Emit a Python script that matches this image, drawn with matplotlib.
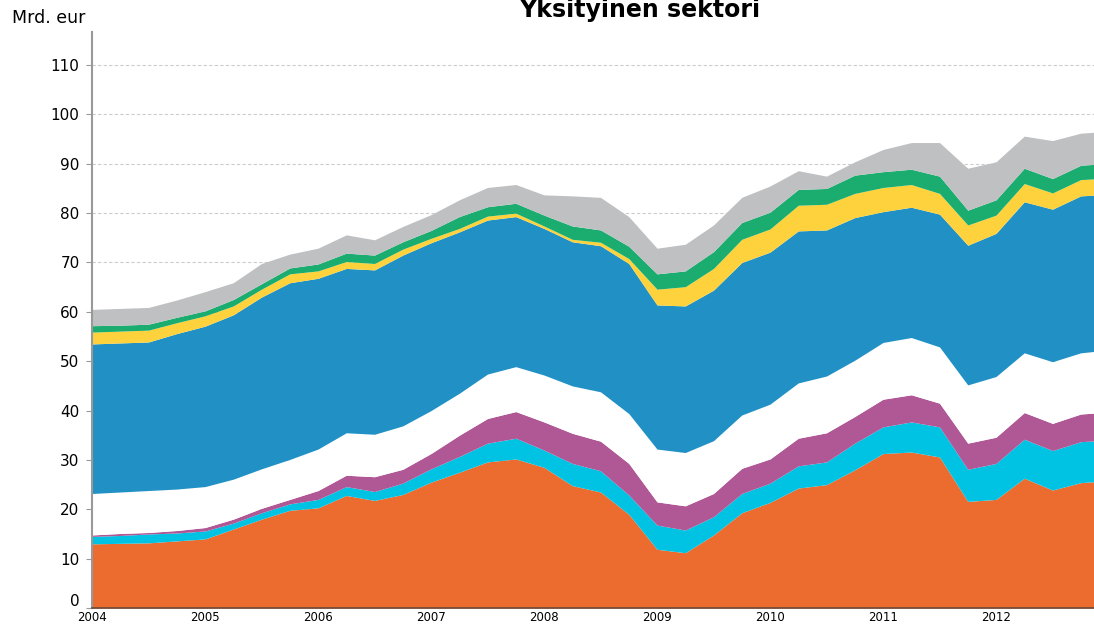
import numpy as np
import matplotlib
matplotlib.use("Agg")
import matplotlib.pyplot as plt
import matplotlib.transforms as mtransforms

# quarterly observations, 2004Q1 .. 2013Q1 (the last one is cut by the right edge)
quarters = np.arange(2004.0, 2013.01, 0.25)

# cumulative top of each stacked layer, bn EUR
orange_top = [13.0, 13.1, 13.2, 13.6, 14.0, 16.0, 18.0, 19.8, 20.3, 22.8, 21.8, 23.0, 25.5,
              27.5, 29.6, 30.2, 28.5, 24.8, 23.5, 19.0, 11.9, 11.2, 14.8, 19.3, 21.4, 24.3,
              25.0, 28.0, 31.3, 31.6, 30.6, 21.6, 22.0, 26.3, 23.9, 25.4, 25.8]
cyan_top = [14.5, 14.7, 15.0, 15.2, 15.6, 17.2, 19.3, 21.1, 22.0, 24.6, 23.6, 25.3, 28.2,
            30.7, 33.4, 34.4, 32.0, 29.3, 27.8, 22.9, 16.8, 15.8, 18.5, 23.2, 25.3, 28.8,
            29.6, 33.4, 36.7, 37.7, 36.7, 28.1, 29.3, 34.2, 31.9, 33.7, 34.0]
purple_top = [14.8, 15.1, 15.3, 15.7, 16.3, 18.0, 20.2, 22.0, 23.8, 26.9, 26.6, 28.1, 31.3,
              35.0, 38.4, 39.8, 37.7, 35.4, 33.8, 29.3, 21.5, 20.7, 23.2, 28.3, 30.2, 34.4,
              35.5, 38.8, 42.3, 43.2, 41.5, 33.4, 34.6, 39.6, 37.4, 39.3, 39.7]
white_top = [23.2, 23.5, 23.8, 24.1, 24.6, 26.1, 28.2, 30.1, 32.2, 35.5, 35.2, 36.9, 40.0,
             43.5, 47.4, 48.9, 47.2, 45.0, 43.8, 39.4, 32.2, 31.5, 33.9, 39.1, 41.3, 45.6,
             47.0, 50.2, 53.8, 54.8, 52.9, 45.2, 46.9, 51.7, 49.9, 51.7, 52.3]
blue_top = [53.5, 53.7, 53.9, 55.6, 57.1, 59.4, 63.0, 65.9, 66.8, 68.8, 68.5, 71.5, 74.0,
            76.2, 78.6, 79.3, 76.9, 74.2, 73.4, 69.8, 61.4, 61.2, 64.4, 70.0, 72.1, 76.4,
            76.6, 79.1, 80.3, 81.2, 79.8, 73.5, 75.9, 82.3, 80.8, 83.5, 83.8]
yellow_top = [55.9, 56.1, 56.3, 57.8, 59.2, 61.2, 64.6, 67.7, 68.3, 70.2, 69.8, 72.7, 74.9,
              76.9, 79.4, 80.0, 77.4, 74.7, 74.1, 70.8, 64.6, 65.1, 68.8, 74.7, 76.8, 81.6,
              81.8, 84.0, 85.2, 85.8, 84.0, 77.6, 79.6, 86.0, 84.1, 86.8, 87.1]
green_top = [57.2, 57.3, 57.5, 58.9, 60.2, 62.5, 65.7, 68.9, 69.7, 71.9, 71.5, 74.2, 76.5,
             79.3, 81.3, 82.0, 79.6, 77.4, 76.6, 73.3, 67.7, 68.3, 72.2, 78.1, 80.2, 84.8,
             85.0, 87.7, 88.4, 88.9, 87.5, 80.6, 82.7, 89.1, 87.0, 89.7, 90.1]
gray_top = [60.5, 60.7, 60.9, 62.4, 64.1, 65.9, 69.8, 71.7, 72.9, 75.6, 74.6, 77.3, 79.7,
            82.7, 85.2, 85.8, 83.7, 83.5, 83.2, 79.3, 72.9, 73.7, 77.6, 83.2, 85.5, 88.6,
            87.5, 90.4, 92.9, 94.3, 94.3, 89.1, 90.4, 95.6, 94.7, 96.2, 96.6]

years = list(range(2004, 2013))
y_ticks = list(range(0, 111, 10))

layers = [orange_top, cyan_top, purple_top, white_top, blue_top, yellow_top, green_top, gray_top]
colors = ['#EC6C30', '#00C3E3', '#B05795', '#FFFFFF', '#2191C5', '#FDD23C', '#1AAD6F', '#BFC0C2']

fig = plt.figure(figsize=(10.94, 6.24), dpi=100)
ax = fig.add_axes([92 / 1094, 16 / 624, 1 - 92 / 1094, (608 - 32) / 624])

bottom = np.zeros(len(quarters))
for top, c in zip(layers, colors):
    top = np.array(top)
    ax.fill_between(quarters, bottom, top, color=c, linewidth=0, zorder=2)
    bottom = top

ax.set_xlim(2004, 2004 + 1002 / 113)
ax.set_ylim(0, 116.7)
ax.set_yticks(y_ticks)
ax.set_xticks(years)
ax.set_xticklabels([str(y) for y in years], fontsize=8.5)
ax.tick_params(axis='y', labelsize=11, length=4, color='#999999', pad=5)
ax.tick_params(axis='x', length=0, pad=2)
ax.grid(axis='y', linestyle=(0, (3, 2)), color='#cccccc', linewidth=0.8, zorder=1)
ax.set_axisbelow(True)

# lift the "0" label a little so it clears the "2004" label
zero_lbl = ax.yaxis.get_major_ticks()[0].label1
zero_lbl.set_transform(zero_lbl.get_transform() +
                       mtransforms.ScaledTranslation(0, 6 / 72, fig.dpi_scale_trans))

for s in ['top', 'right']:
    ax.spines[s].set_visible(False)
ax.spines['left'].set_color('#999999')
ax.spines['left'].set_linewidth(1.5)
ax.spines['bottom'].set_color('#6b4a3a')
ax.spines['bottom'].set_linewidth(1.2)
ax.spines['bottom'].set_zorder(3)

fig.text(12 / 1094, 1 - 18 / 624, 'Mrd. eur', fontsize=12.5, va='center', ha='left')
fig.text(640 / 1094, 1 - 17 / 624, 'Yksityinen sektori', fontsize=17, fontweight='bold',
         ha='center', va='baseline')

fig.savefig('out.png', dpi=100)
